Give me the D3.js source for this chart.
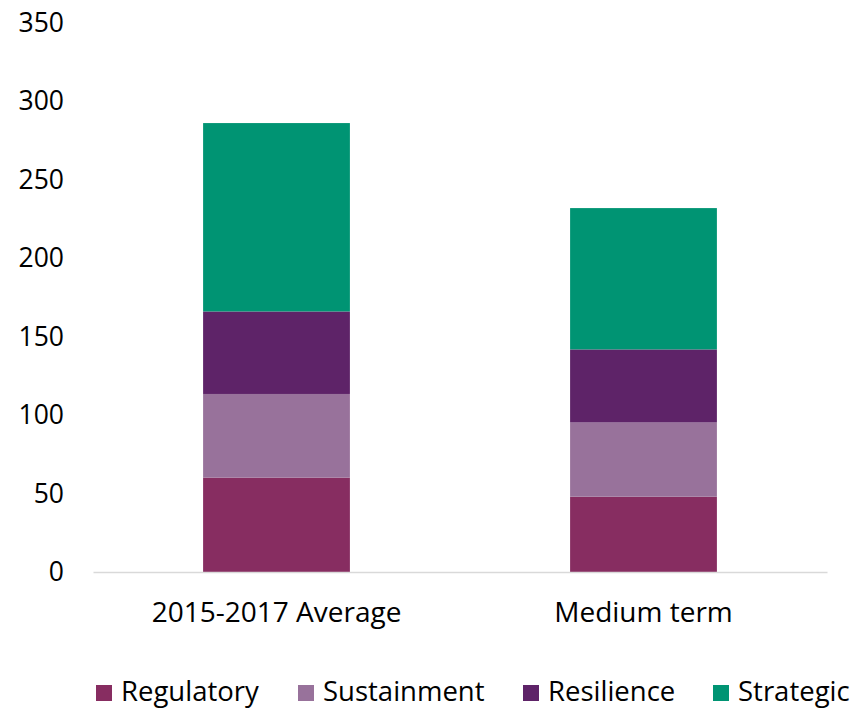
<!DOCTYPE html>
<html>
<head>
<meta charset="utf-8">
<script src="https://cdn.jsdelivr.net/npm/d3@7"></script>
<style>
  html, body { margin: 0; padding: 0; background: #fff; }
  svg text { font-family: "Open Sans", Lato, sans-serif; fill: #000; }
</style>
</head>
<body>
<svg id="chart" width="854" height="709"></svg>
<script>
const categories = ["2015-2017 Average", "Medium term"];
const seriesNames = ["Regulatory", "Sustainment", "Resilience", "Strategic"];
const regulatory = [60.2, 48.0];
const sustainment = [53.3, 47.3];
const resilience = [52.6, 46.6];
const strategic = [120.1, 90.1];
const yTicks = [0, 50, 100, 150, 200, 250, 300, 350];
const colors = ["#872D61", "#98729B", "#5E2368", "#009473"];

const svg = d3.select("#chart");
const margin = { left: 93, right: 27, top: 23, bottom: 137 };
const W = 854, H = 709;

const x = d3.scaleBand().domain(categories)
  .range([margin.left, W - margin.right])
  .paddingInner(0.6).paddingOuter(0.3);
const y = d3.scaleLinear().domain([0, 350]).range([H - margin.bottom, margin.top]);

const rows = categories.map((c, i) => ({
  category: c,
  Regulatory: regulatory[i],
  Sustainment: sustainment[i],
  Resilience: resilience[i],
  Strategic: strategic[i]
}));
const stacked = d3.stack().keys(seriesNames)(rows);

// y axis labels
const yAxis = d3.axisLeft(y).tickValues(yTicks).tickSize(0).tickPadding(0);
const yg = svg.append("g").attr("transform", `translate(${margin.left - 29},0)`).call(yAxis);
yg.select(".domain").remove();
yg.selectAll("text").style("font-size", "26.5px").attr("fill", "#000");

// bars
svg.append("g").selectAll("g").data(stacked).join("g")
  .attr("fill", (d, i) => colors[i])
  .selectAll("rect").data(d => d).join("rect")
  .attr("x", d => x(d.data.category))
  .attr("width", x.bandwidth())
  .attr("y", d => y(d[1]))
  .attr("height", d => y(d[0]) - y(d[1]));

// x axis
const xAxis = d3.axisBottom(x).tickSize(0).tickPadding(30);
const xg = svg.append("g").attr("transform", `translate(0,${y(0)})`).call(xAxis);
xg.select(".domain").attr("stroke", "#d9d9d9").attr("stroke-width", 1.5);
xg.selectAll("text").style("font-size", "28px").attr("fill", "#000");

// legend
const legendX = [96, 298, 523, 713];
const lg = svg.append("g").attr("transform", "translate(0,693)");
seriesNames.forEach((s, i) => {
  lg.append("rect").attr("x", legendX[i]).attr("y", -8).attr("width", 16).attr("height", 16).attr("fill", colors[i]);
  lg.append("text").attr("x", legendX[i] + 25).attr("y", 8)
    .style("font-size", "27.5px").text(s);
});
</script>
</body>
</html>
